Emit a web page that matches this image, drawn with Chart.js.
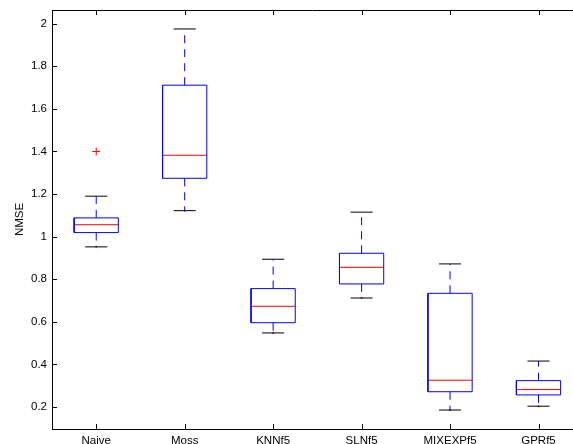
<!DOCTYPE html>
<html><head><meta charset="utf-8">
<script src="https://cdn.jsdelivr.net/npm/chart.js@4"></script>
<style>html,body{margin:0;padding:0;background:#fff;overflow:hidden}</style>
</head><body>
<canvas id="c" width="573" height="444"></canvas>
<script>
// ---- data ----
const categories  = ['Naive','Moss','KNNf5','SLNf5','MIXEXPf5','GPRf5'];
const whiskerLow  = [0.952, 1.122, 0.548, 0.712, 0.186, 0.204];
const quartile1   = [1.019, 1.274, 0.596, 0.778, 0.272, 0.257];
const medians     = [1.056, 1.382, 0.673, 0.856, 0.326, 0.282];
const quartile3   = [1.088, 1.711, 0.756, 0.922, 0.734, 0.324];
const whiskerHigh = [1.190, 1.975, 0.894, 1.115, 0.872, 0.416];
const outlierCategory = [0];
const outlierValue    = [1.40];
const yTickValues = [0.2, 0.4, 0.6, 0.8, 1.0, 1.2, 1.4, 1.6, 1.8, 2.0];

const BOX_HALF = 0.25, CAP_HALF = 0.125;
const FONT = {family: '"Liberation Sans", Arial, Helvetica, sans-serif', size: 11.5};

function addSeg(arr, pts) { pts.forEach(p => arr.push(p)); arr.push({x: pts[0].x, y: null}); }

const boxData = [], medData = [], whiskData = [], capData = [], dotData = [], outData = [];
categories.forEach((c, i) => {
  const x = i + 1;
  addSeg(boxData, [{x: x - BOX_HALF, y: quartile1[i]}, {x: x + BOX_HALF, y: quartile1[i]},
                   {x: x + BOX_HALF, y: quartile3[i]}, {x: x - BOX_HALF, y: quartile3[i]},
                   {x: x - BOX_HALF, y: quartile1[i]}]);
  addSeg(medData, [{x: x - BOX_HALF, y: medians[i]}, {x: x + BOX_HALF, y: medians[i]}]);
  addSeg(whiskData, [{x: x, y: quartile3[i]}, {x: x, y: whiskerHigh[i]}]);
  addSeg(whiskData, [{x: x, y: quartile1[i]}, {x: x, y: whiskerLow[i]}]);
  addSeg(capData, [{x: x - CAP_HALF, y: whiskerHigh[i]}, {x: x + CAP_HALF, y: whiskerHigh[i]}]);
  addSeg(capData, [{x: x - CAP_HALF, y: whiskerLow[i]}, {x: x + CAP_HALF, y: whiskerLow[i]}]);
  dotData.push({x: x, y: whiskerLow[i]});
});
outlierCategory.forEach((ci, k) => outData.push({x: ci + 1, y: outlierValue[k]}));

const lineDs = (data, color, extra) => Object.assign({
  type: 'line', data, borderColor: color, borderWidth: 1, pointRadius: 0,
  spanGaps: false, tension: 0, fill: false
}, extra || {});

const inwardTicks = {
  id: 'inwardTicks',
  afterDraw(chart) {
    const {ctx, chartArea: a, scales: {x, y}} = chart;
    ctx.save();
    ctx.strokeStyle = '#000'; ctx.lineWidth = 1;
    ctx.beginPath();
    ctx.moveTo(a.left, a.top + 0.5); ctx.lineTo(a.right, a.top + 0.5);
    y.ticks.forEach(t => {
      const py = Math.round(y.getPixelForValue(t.value)) + 0.5;
      ctx.moveTo(a.left, py); ctx.lineTo(a.left + 5, py);
    });
    x.ticks.forEach(t => {
      const px = Math.round(x.getPixelForValue(t.value)) + 0.5;
      ctx.moveTo(px, a.bottom); ctx.lineTo(px, a.bottom - 5);
      ctx.moveTo(px, a.top); ctx.lineTo(px, a.top + 5);
    });
    ctx.stroke();
    ctx.restore();
  }
};

new Chart(document.getElementById('c'), {
  type: 'line',
  data: {
    datasets: [
      lineDs(boxData, '#0000ff'),
      lineDs(medData, '#ff0000'),
      lineDs(whiskData, '#0000ff', {borderDash: [8, 6]}),
      lineDs(capData, '#000000'),
      {type: 'scatter', data: dotData, pointRadius: 1, pointBackgroundColor: '#ff0000', pointBorderWidth: 0, borderColor: '#ff0000'},
      {type: 'scatter', data: outData, pointStyle: 'cross', pointRadius: 4, pointBorderColor: '#ff0000', pointBorderWidth: 1, borderColor: '#ff0000'}
    ]
  },
  options: {
    responsive: false,
    animation: false,
    layout: {autoPadding: false, padding: {top: 10, right: 0, bottom: 0, left: 0}},
    plugins: {legend: {display: false}, tooltip: {enabled: false}},
    scales: {
      x: {
        type: 'linear', min: 0.5, max: 6.39,
        afterBuildTicks: s => { s.ticks = categories.map((c, i) => ({value: i + 1})); },
        ticks: {callback: v => categories[Math.round(v) - 1], autoSkip: false, maxRotation: 0,
                color: '#000', font: FONT, padding: 5},
        grid: {display: false, drawTicks: false},
        border: {display: true, color: '#000', width: 1},
        afterFit: s => { s.height = 15; s.paddingLeft = 0; s.paddingRight = 0; }
      },
      y: {
        type: 'linear', min: 0.097, max: 2.064,
        afterBuildTicks: s => { s.ticks = yTickValues.map(v => ({value: v})); },
        ticks: {callback: v => String(+v.toFixed(1)), color: '#000', font: FONT, padding: 5},
        grid: {display: false, drawTicks: false},
        border: {display: true, color: '#000', width: 1},
        title: {display: true, text: 'NMSE', color: '#000', font: FONT, padding: {top: 13, bottom: 0}},
        afterFit: s => { s.width = 52; s.paddingTop = 0; s.paddingBottom = 0; }
      }
    }
  },
  plugins: [inwardTicks]
});
</script>
</body></html>
